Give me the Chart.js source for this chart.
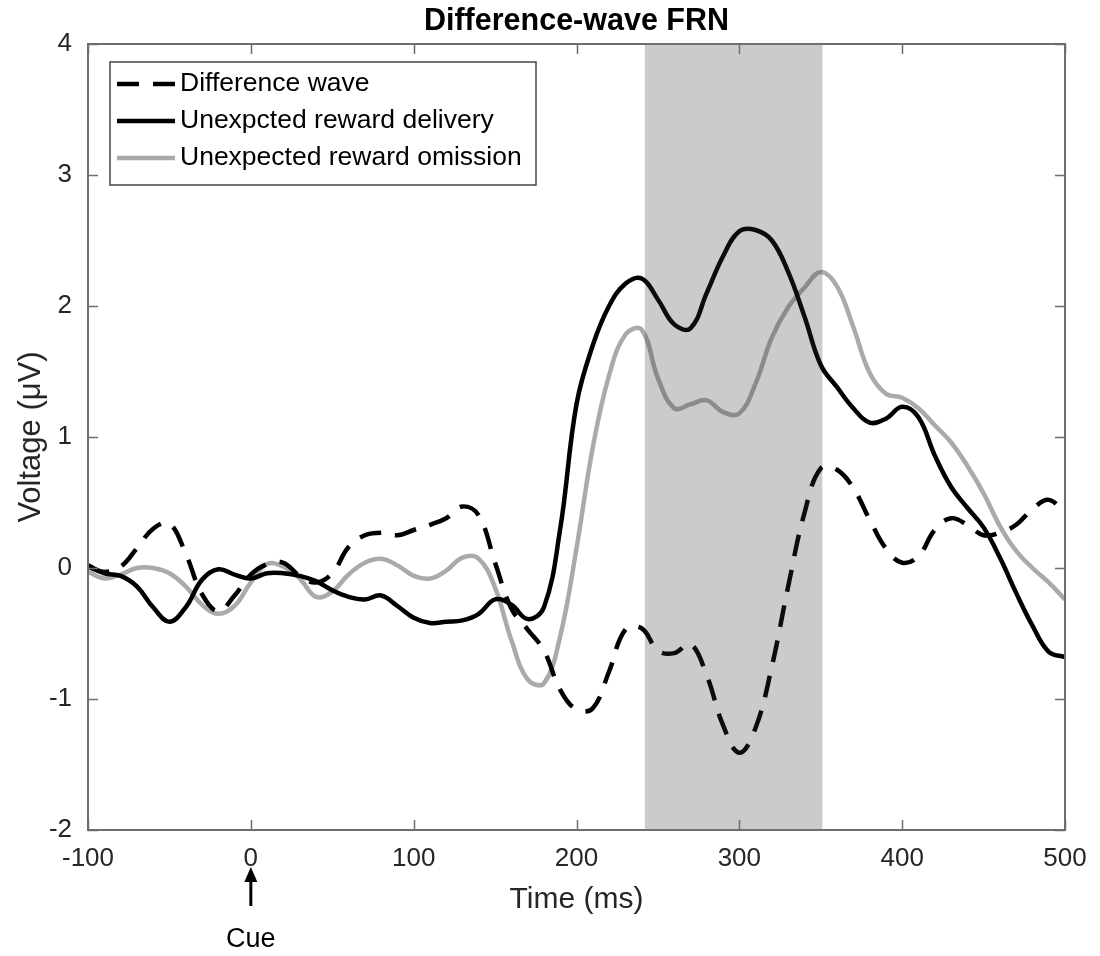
<!DOCTYPE html>
<html>
<head>
<meta charset="utf-8">
<script src="https://cdn.jsdelivr.net/npm/chart.js@4.4.1/dist/chart.umd.min.js"></script>
<style>
  body { margin: 0; background: #fff; }
  #wrap { width: 1100px; height: 956px; }
</style>
</head>
<body>
<div id="wrap"><canvas id="frn"></canvas></div>
<script>
// time points (ms) and the three ERP traces (µV)
const times = [-100, -90, -80, -70, -60, -50, -40, -30, -20, -10,
  0, 10, 20, 30, 40, 50, 60, 70, 80, 90,
  100, 110, 120, 130, 140, 150, 160, 170, 180, 190,
  200, 210, 220, 230, 240, 250, 260, 270, 280, 290,
  300, 310, 320, 330, 340, 350, 360, 370, 380, 390,
  400, 410, 420, 430, 440, 450, 460, 470, 480, 490, 500];

const diffWave = [0.01, -0.03, 0.01, 0.15, 0.30, 0.34, 0.11, -0.20, -0.33, -0.21,
  -0.05, 0.03, 0.04, -0.06, -0.11, -0.04, 0.16, 0.25, 0.27, 0.25,
  0.29, 0.33, 0.38, 0.47, 0.40, 0.04, -0.31, -0.47, -0.63, -0.93,
  -1.08, -1.07, -0.79, -0.47, -0.46, -0.63, -0.65, -0.58, -0.82, -1.20,
  -1.41, -1.22, -0.75, -0.14, 0.42, 0.76, 0.75, 0.61, 0.37, 0.15,
  0.04, 0.09, 0.29, 0.38, 0.33, 0.25, 0.27, 0.33, 0.45, 0.52, 0.42];

const delivery = [0.02, -0.04, -0.06, -0.14, -0.30, -0.41, -0.30, -0.09, -0.01, -0.05,
  -0.08, -0.04, -0.04, -0.06, -0.10, -0.17, -0.22, -0.24, -0.21, -0.29,
  -0.38, -0.42, -0.41, -0.40, -0.35, -0.24, -0.28, -0.39, -0.30, 0.30,
  1.25, 1.70, 2.00, 2.17, 2.21, 2.05, 1.86, 1.83, 2.10, 2.38,
  2.57, 2.58, 2.50, 2.26, 1.92, 1.55, 1.38, 1.22, 1.11, 1.14,
  1.23, 1.15, 0.86, 0.62, 0.46, 0.31, 0.08, -0.19, -0.44, -0.64, -0.68];

const omission = [-0.03, -0.08, -0.05, 0.00, 0.00, -0.04, -0.14, -0.28, -0.35, -0.29,
  -0.11, 0.03, 0.01, -0.08, -0.22, -0.18, -0.05, 0.04, 0.07, 0.02,
  -0.06, -0.08, -0.02, 0.08, 0.07, -0.15, -0.55, -0.85, -0.88, -0.52,
  0.15, 0.92, 1.47, 1.78, 1.82, 1.45, 1.22, 1.25, 1.28, 1.19,
  1.18, 1.41, 1.76, 1.99, 2.14, 2.26, 2.15, 1.84, 1.49, 1.33,
  1.30, 1.22, 1.09, 0.96, 0.78, 0.57, 0.32, 0.13, 0.00, -0.11, -0.24];

const seriesNames = ['Difference wave', 'Unexpcted reward delivery', 'Unexpected reward omission'];
const chartTitle = 'Difference-wave FRN';
const shadeWindow = [242, 351];
const cueTime = 0;
const xTicks = [-100, 0, 100, 200, 300, 400, 500];
const yTicks = [-2, -1, 0, 1, 2, 3, 4];

const FONT = "'Liberation Sans', Arial, sans-serif";
const AXIS_GREY = '#6e6e6e';
const TEXT = '#262626';

const pts = arr => times.map((t, i) => ({ x: t, y: arr[i] }));

// grey analysis window, laid over the traces like the original patch
const shadePlugin = {
  id: 'shade',
  afterDatasetsDraw(chart) {
    const { ctx, chartArea, scales: { x } } = chart;
    const x0 = x.getPixelForValue(shadeWindow[0]);
    const x1 = x.getPixelForValue(shadeWindow[1]);
    ctx.save();
    ctx.fillStyle = 'rgba(48,48,48,0.25)';
    ctx.fillRect(x0, chartArea.top, x1 - x0, chartArea.bottom - chartArea.top);
    ctx.restore();
  }
};

// MATLAB style box with inward ticks on all sides, title centred on the axes
const boxPlugin = {
  id: 'box',
  afterDatasetsDraw(chart) {
    const { ctx, chartArea: a, scales: { x, y } } = chart;
    ctx.save();
    ctx.strokeStyle = AXIS_GREY;
    ctx.lineWidth = 2;
    ctx.strokeRect(a.left, a.top, a.right - a.left, a.bottom - a.top);
    ctx.lineWidth = 1.5;
    ctx.beginPath();
    xTicks.forEach(v => {
      const px = Math.round(x.getPixelForValue(v)) + 0.5;
      ctx.moveTo(px, a.bottom); ctx.lineTo(px, a.bottom - 10);
      ctx.moveTo(px, a.top); ctx.lineTo(px, a.top + 10);
    });
    yTicks.forEach(v => {
      const py = Math.round(y.getPixelForValue(v)) + 0.5;
      ctx.moveTo(a.left, py); ctx.lineTo(a.left + 10, py);
      ctx.moveTo(a.right, py); ctx.lineTo(a.right - 10, py);
    });
    ctx.stroke();

    ctx.fillStyle = '#000';
    ctx.font = 'bold 30.5px ' + FONT;
    ctx.textAlign = 'center';
    ctx.textBaseline = 'middle';
    ctx.fillText(chartTitle, (a.left + a.right) / 2, 22);
    ctx.restore();
  }
};

// boxed legend in the upper-left corner of the axes
const legendBoxPlugin = {
  id: 'legendBox',
  afterDatasetsDraw(chart) {
    const { ctx, chartArea: a } = chart;
    const bx = a.left + 22, by = a.top + 18, bw = 426, bh = 123;
    ctx.save();
    ctx.fillStyle = '#fff';
    ctx.fillRect(bx, by, bw, bh);
    ctx.strokeStyle = '#444';
    ctx.lineWidth = 1.5;
    ctx.strokeRect(bx, by, bw, bh);
    chart.data.datasets.forEach((ds, i) => {
      const ry = by + 22 + i * 37;
      ctx.beginPath();
      ctx.strokeStyle = ds.borderColor;
      ctx.lineWidth = ds.borderWidth;
      ctx.setLineDash(ds.borderDash || []);
      ctx.moveTo(bx + 7, ry);
      ctx.lineTo(bx + 65, ry);
      ctx.stroke();
      ctx.setLineDash([]);
      ctx.fillStyle = '#000';
      ctx.font = '26.5px ' + FONT;
      ctx.textBaseline = 'middle';
      ctx.textAlign = 'left';
      ctx.fillText(ds.label, bx + 70, ry);
    });
    ctx.restore();
  }
};

// arrow + "Cue" under the time axis
const cuePlugin = {
  id: 'cue',
  afterDraw(chart) {
    const { ctx, scales: { x } } = chart;
    const px = x.getPixelForValue(cueTime);
    ctx.save();
    ctx.strokeStyle = '#000';
    ctx.fillStyle = '#000';
    ctx.lineWidth = 3;
    ctx.beginPath();
    ctx.moveTo(px, 906);
    ctx.lineTo(px, 878);
    ctx.stroke();
    ctx.beginPath();
    ctx.moveTo(px, 867);
    ctx.lineTo(px - 6.5, 882);
    ctx.lineTo(px + 6.5, 882);
    ctx.closePath();
    ctx.fill();
    ctx.font = '27px ' + FONT;
    ctx.textAlign = 'center';
    ctx.textBaseline = 'middle';
    ctx.fillText('Cue', px, 940);
    ctx.restore();
  }
};

new Chart(document.getElementById('frn'), {
  type: 'line',
  data: {
    datasets: [
      { label: seriesNames[0], data: pts(diffWave), borderColor: '#000', borderWidth: 4.5, borderDash: [22, 14] },
      { label: seriesNames[1], data: pts(delivery), borderColor: '#000', borderWidth: 4.5 },
      { label: seriesNames[2], data: pts(omission), borderColor: '#aaaaaa', borderWidth: 4.5 }
    ]
  },
  options: {
    responsive: true,
    maintainAspectRatio: false,
    animation: false,
    layout: { padding: { left: 0, right: 35, top: 44, bottom: 0 } },
    elements: { point: { radius: 0 }, line: { tension: 0.4, fill: false } },
    plugins: {
      legend: { display: false },
      tooltip: { enabled: false },
      title: { display: false }
    },
    scales: {
      x: {
        type: 'linear',
        min: -100,
        max: 500,
        afterFit: s => { s.height = 126; },
        afterBuildTicks: s => { s.ticks = xTicks.map(v => ({ value: v })); },
        grid: { display: false, drawTicks: false },
        border: { display: false },
        ticks: { color: TEXT, padding: 13, maxRotation: 0, font: { family: FONT, size: 26 } },
        title: { display: true, text: 'Time (ms)', color: TEXT, padding: { top: 0, bottom: 38 }, font: { family: FONT, size: 30 } }
      },
      y: {
        min: -2,
        max: 4,
        afterFit: s => { s.width = 88; },
        afterBuildTicks: s => { s.ticks = yTicks.map(v => ({ value: v })); },
        grid: { display: false, drawTicks: false },
        border: { display: false },
        ticks: { color: TEXT, padding: 16, font: { family: FONT, size: 26 } },
        title: { display: true, text: 'Voltage (μV)', color: TEXT, padding: { top: 13, bottom: 0 }, font: { family: FONT, size: 31 } }
      }
    }
  },
  plugins: [shadePlugin, boxPlugin, legendBoxPlugin, cuePlugin]
});
</script>
</body>
</html>
